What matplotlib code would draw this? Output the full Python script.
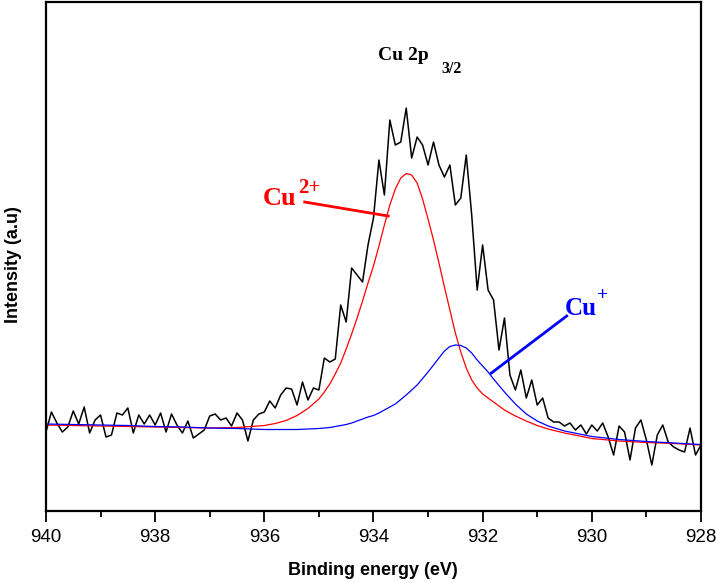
import numpy as np
import matplotlib
matplotlib.use("Agg")
import matplotlib.pyplot as plt

plt.rcParams['font.family'] = ['Liberation Sans', 'DejaVu Sans']

# measured spectrum, 0.1 eV steps from 940 down to 928 eV
raw = [80, 100, 89, 80, 85, 101, 88, 105, 79, 92,
       97, 75, 77, 99, 97, 104, 79, 97, 88, 97,
       87, 99, 80, 98, 87, 79, 91, 74, 78, 82,
       96, 98, 92, 94, 86, 99, 92, 71, 92, 98,
       100, 111, 104, 117, 124, 123, 107, 130, 112, 124,
       122, 154, 150, 153, 207, 190, 244, 237, 230, 267,
       294, 352, 317, 392, 367, 370, 404, 354, 375, 367,
       347, 370, 347, 335, 347, 307, 314, 357, 297, 222,
       267, 222, 212, 162, 194, 137, 122, 142, 114, 132,
       107, 114, 94, 90, 90, 86, 89, 82, 87, 78,
       87, 81, 89, 75, 57, 86, 80, 52, 84, 92,
       72, 47, 77, 87, 70, 65, 62, 60, 84, 57,
       67]
energy = np.linspace(940, 928, len(raw))

# fitted components
fit_x = [940.0, 939.5, 939.0, 938.5, 938.0, 937.5, 937.0, 936.5, 936.0,
         935.8, 935.6, 935.4, 935.2,
         935.0, 934.9, 934.8, 934.7, 934.6, 934.5, 934.4, 934.3, 934.2, 934.1,
         934.0, 933.9, 933.8, 933.7, 933.6, 933.5, 933.4, 933.3, 933.2, 933.1,
         933.0, 932.9, 932.8, 932.7, 932.6, 932.5, 932.4, 932.3, 932.2, 932.1,
         932.0, 931.9,
         931.8, 931.6, 931.4, 931.2, 931.0, 930.8,
         930.5, 930.0, 929.5, 929.0, 928.5, 928.0]
cu2 = [87, 86.5, 86, 85.5, 85, 84.5, 84, 84.5, 86.5,
       88.5, 91.5, 96.5, 103.5,
       113, 120, 128, 138, 149, 163, 178, 194, 211, 229,
       246, 266, 287, 307, 323, 334, 338.5, 337, 329, 313,
       293, 272, 249, 225, 202, 179, 160, 144, 132, 124,
       118, 114,
       110, 102, 96, 91, 86.5, 83,
       79, 73.5, 71, 69.5, 68.5, 67]
cu1 = [88, 87.5, 87, 86.5, 85.5, 85, 84, 83.5, 82.5,
       82.5, 82.5, 82.5, 83,
       83.5, 84, 84.5, 85.5, 86.5, 87.5, 89, 91, 93, 95,
       96.5, 99, 102, 105, 108, 112.5, 117, 122, 127, 133.5,
       140, 147, 154, 161, 165.5, 167, 166.5, 164, 159, 152,
       146, 140,
       133, 120, 108, 98, 91, 86,
       81, 75.5, 72.5, 70.5, 69, 67.5]

fig = plt.figure(figsize=(7.16, 5.83), dpi=100)
ax = fig.add_axes([0.0642, 0.1235, 0.9148, 0.873])

ax.plot(energy, raw, color="black", lw=1.1)
ax.plot(fit_x, cu2, color="#ff0000", lw=0.9)
ax.plot(fit_x, cu1, color="#0000ff", lw=0.9)

ax.set_xlim(940, 928)
ax.set_ylim(1, 510)
ax.set_xticks([940, 938, 936, 934, 932, 930, 928])
ax.set_xticks(np.arange(928, 941, 1), minor=True)
ax.set_yticks([])
ax.tick_params(axis="x", which="major", length=8, width=1.3, labelsize=13.5, pad=5)
ax.tick_params(axis="x", which="minor", length=4.5, width=1.3)
for s in ax.spines.values():
    s.set_linewidth(1.6)

ax.set_xlabel("Binding energy (eV)", fontsize=13, fontweight="bold")
ax.xaxis.set_label_coords(0.499, -0.100)
ax.set_ylabel("Intensity (a.u)", fontsize=13, fontweight="bold")
ax.yaxis.set_label_coords(-0.037, 0.485)

serif = "Liberation Serif"
ax.text(933.92, 452, "Cu 2p", family=serif, fontweight="bold", fontsize=14)
ax.text(932.75, 439, "3/2", family=serif, fontweight="bold", fontsize=11.5)

ax.text(936.03, 307, "Cu", family=serif, fontweight="bold", fontsize=19, color="#ff0000")
ax.text(935.38, 319, "2+", family=serif, fontweight="bold", fontsize=15, color="#ff0000")
ax.plot([935.26, 933.73], [310, 296], color="#ff0000", lw=2)

ax.text(930.49, 197, "Cu", family=serif, fontweight="bold", fontsize=18, color="#0000ff")
ax.text(929.90, 212, "+", family=serif, fontweight="bold", fontsize=14, color="#0000ff")
ax.plot([930.46, 931.84], [196, 139], color="#0000ff", lw=2)

fig.savefig("out.png", dpi=100)
